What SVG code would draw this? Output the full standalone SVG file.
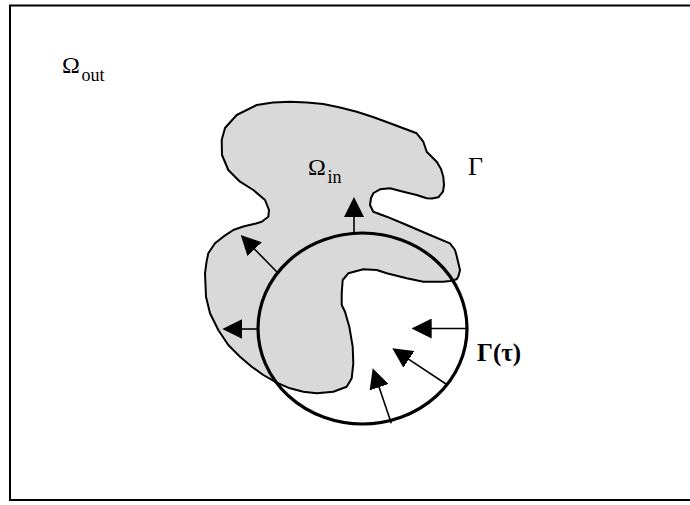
<svg xmlns="http://www.w3.org/2000/svg" width="690" height="505" viewBox="0 0 690 505">
<style>
.frame{fill:#fff;stroke:#000;stroke-width:2}
.blob{fill:#d9d9d9;stroke:#000;stroke-width:2;stroke-linejoin:round}
.ring{fill:none;stroke:#000;stroke-width:3.2}
.arr{stroke:#000;stroke-width:1.6;fill:none}
.t{font-family:"Liberation Serif","Times New Roman",serif;fill:#000}
</style>
<defs>
<marker id="ah" viewBox="0 0 20 20" refX="10" refY="10" markerWidth="20" markerHeight="20" markerUnits="userSpaceOnUse" orient="auto">
<path d="M0,0 L20,10 L0,20 z" fill="#000"/>
</marker>
</defs>
<rect class="frame" x="10" y="5.5" width="700" height="494.5"/>
<g id="omega-in-region">
<path class="blob" d="M256.7,105 L273,102.5 L290,101.7 L307,102.5 L323.3,104 L340,107.5 L356.7,111.7 L373,117 L390,123.3 L404,128.5 L416.7,133.3 L423.3,141.7 L426.7,151.7 L436.7,161.7 L441,169 L443.3,176.7 L444,185 L443,191.7 L438.3,197.3 L432,198.6 L426.7,198.3 L416.7,195 L403.3,191.7 L390,188.3 L380,189.3 L373.5,193 L371,198 L370,205 L373.3,211.7 L386.7,216.7 L406.7,225 L430,235 L450,243.3 L455,250 L456.7,256 L460,270 L458.5,276 L456.7,279.3 L450,281 L443.3,281.7 L423.3,281.7 L406.7,278.3 L386.7,273.3 L376.7,270 L363.3,269.3 L348.3,273.3 L342.7,280 L341.7,293.3 L341.7,305 L345,311.7 L349.3,326.7 L352.7,346.7 L353.3,363.3 L351.7,378.3 L346.7,386.7 L333.3,391.7 L316.7,393.3 L303.3,391.7 L290,388.3 L276.7,382.7 L263.3,375 L251.7,366.7 L240,356.7 L228.3,345 L218.3,330 L210,313.3 L206,296.7 L205,273.3 L206.5,262 L208.3,253.3 L215,243.3 L223.3,236.7 L233.3,230 L243.3,226.5 L256,223.5 L261.7,221.7 L268.3,216.7 L269,210 L265,200 L253.3,190 L240,181.7 L228.3,170 L222,155 L221.7,140 L225,128 L236.7,115 Z"/>
</g>
<g id="gamma-tau-front">
<ellipse class="ring" cx="362.5" cy="328.5" rx="104.5" ry="95.5"/>
</g>
<g id="connectors">
<line class="arr" x1="354" y1="233" x2="354" y2="207" marker-end="url(#ah)"/>
<line class="arr" x1="276.7" y1="271.7" x2="247.7" y2="242.1" marker-end="url(#ah)"/>
<line class="arr" x1="258" y1="329" x2="232.3" y2="329" marker-end="url(#ah)"/>
<line class="arr" x1="466" y1="328.5" x2="421.7" y2="328.5" marker-end="url(#ah)"/>
<line class="arr" x1="446" y1="384" x2="400.6" y2="353.8" marker-end="url(#ah)"/>
<line class="arr" x1="391.3" y1="423.3" x2="375.9" y2="377.8" marker-end="url(#ah)"/>
</g>
<g id="label-omega-out">
<text class="t" x="62" y="72.7" font-size="24">Ω</text>
<text class="t" x="81.5" y="81" font-size="18">out</text>
</g>
<g id="label-omega-in">
<text class="t" x="308" y="175" font-size="24">Ω</text>
<text class="t" x="327.5" y="183" font-size="18">in</text>
</g>
<g id="label-gamma">
<text class="t" x="468" y="175" font-size="26">Γ</text>
</g>
<g id="label-gamma-tau">
<text class="t" x="477" y="360.5" font-size="25" font-weight="bold">Γ(τ)</text>
</g>
</svg>
